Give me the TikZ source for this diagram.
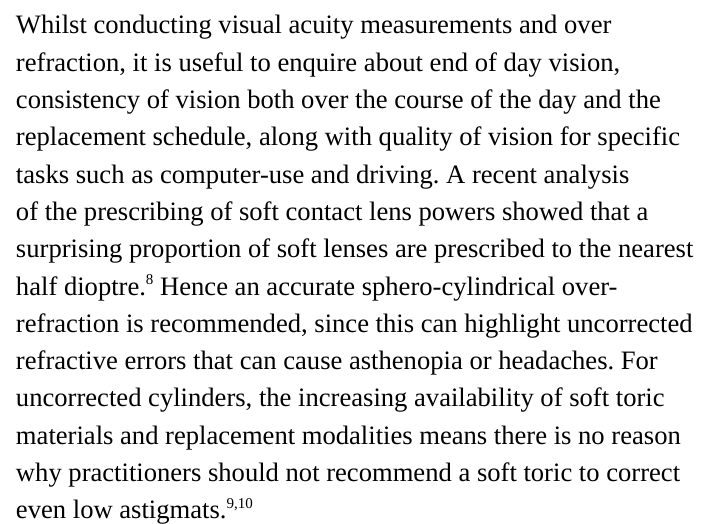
\documentclass[tikz,border=0pt]{standalone}
\usepackage{fontspec}
\setmainfont{Liberation Serif}
\frenchspacing
\newcommand{\sups}[1]{\raisebox{0.4em}{\fontsize{15}{15}\selectfont #1}}
\begin{document}
\begin{tikzpicture}[x=1pt,y=1pt,
  txt/.style={anchor=base west,inner sep=0pt,outer sep=0pt,font=\fontsize{26.6}{32}\selectfont}]
\useasboundingbox (0,0) rectangle (712,524);
\fill[white] (0,0) rectangle (712,524);
\def\ls{37.3}
\node[txt] (l1) at (16,{524-34-0*\ls}) {Whilst conducting visual acuity measurements and over};
\node[txt] (l2) at (16,{524-34-1*\ls}) {refraction, it is useful to enquire about end of day vision,};
\node[txt] (l3) at (16,{524-34-2*\ls}) {consistency of vision both over the course of the day and the};
\node[txt] (l4) at (16,{524-34-3*\ls}) {replacement schedule, along with quality of vision for specific};
\node[txt] (l5) at (16,{524-34-4*\ls}) {tasks such as computer-use and driving. A recent analysis};
\node[txt] (l6) at (16,{524-34-5*\ls}) {of the prescribing of soft contact lens powers showed that a};
\node[txt] (l7) at (16,{524-34-6*\ls}) {surprising proportion of soft lenses are prescribed to the nearest};
\node[txt] (l8) at (16,{524-34-7*\ls}) {half dioptre.\sups{8} Hence an accurate sphero-cylindrical over-};
\node[txt] (l9) at (16,{524-34-8*\ls}) {refraction is recommended, since this can highlight uncorrected};
\node[txt] (l10) at (16,{524-34-9*\ls}) {refractive errors that can cause asthenopia or headaches. For};
\node[txt] (l11) at (16,{524-34-10*\ls}) {uncorrected cylinders, the increasing availability of soft toric};
\node[txt] (l12) at (16,{524-34-11*\ls}) {materials and replacement modalities means there is no reason};
\node[txt] (l13) at (16,{524-34-12*\ls}) {why practitioners should not recommend a soft toric to correct};
\node[txt] (l14) at (16,{524-34-13*\ls}) {even low astigmats.\sups{9,10}};
\end{tikzpicture}
\end{document}
